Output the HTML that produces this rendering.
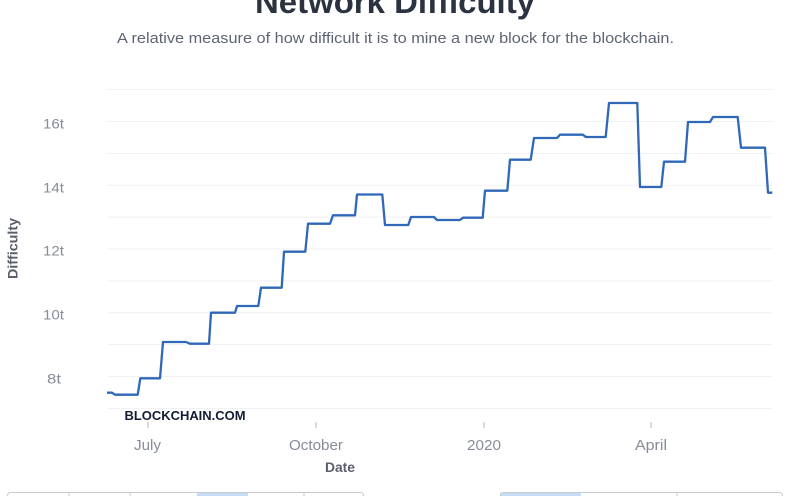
<!DOCTYPE html>
<html><head><meta charset="utf-8"><style>
html,body{margin:0;padding:0;background:#fff;width:793px;height:496px;overflow:hidden}
svg{display:block}
</style></head><body>
<svg width="793" height="496" viewBox="0 0 793 496" xmlns="http://www.w3.org/2000/svg" font-family="Liberation Sans, sans-serif">
<text x="395" y="13" text-anchor="middle" font-size="32" font-weight="bold" fill="#2b3240" textLength="280" lengthAdjust="spacingAndGlyphs">Network Difficulty</text>
<text x="395.5" y="43" text-anchor="middle" font-size="15" fill="#5d6472" textLength="557" lengthAdjust="spacingAndGlyphs">A relative measure of how difficult it is to mine a new block for the blockchain.</text>
<g stroke="#f0f1f4" stroke-width="1">
<line x1="107" x2="773" y1="89.6" y2="89.6"/>
<line x1="107" x2="773" y1="121.5" y2="121.5"/>
<line x1="107" x2="773" y1="153.4" y2="153.4"/>
<line x1="107" x2="773" y1="185.2" y2="185.2"/>
<line x1="107" x2="773" y1="217.1" y2="217.1"/>
<line x1="107" x2="773" y1="249" y2="249"/>
<line x1="107" x2="773" y1="280.9" y2="280.9"/>
<line x1="107" x2="773" y1="312.8" y2="312.8"/>
<line x1="107" x2="773" y1="344.6" y2="344.6"/>
<line x1="107" x2="773" y1="376.5" y2="376.5"/>
<line x1="107" x2="773" y1="408.4" y2="408.4"/>
</g>
<g font-size="14" fill="#868c98" text-anchor="end">
<text x="64" y="128.5" textLength="21" lengthAdjust="spacingAndGlyphs">16t</text>
<text x="64" y="192.5" textLength="21" lengthAdjust="spacingAndGlyphs">14t</text>
<text x="64" y="255.5" textLength="21" lengthAdjust="spacingAndGlyphs">12t</text>
<text x="64" y="319.5" textLength="21" lengthAdjust="spacingAndGlyphs">10t</text>
<text x="61" y="383.5" textLength="14" lengthAdjust="spacingAndGlyphs">8t</text>
</g>
<text transform="translate(17.5,248.5) rotate(-90)" text-anchor="middle" font-size="14" font-weight="bold" fill="#5a5f6b" textLength="61" lengthAdjust="spacingAndGlyphs">Difficulty</text>
<path fill="none" stroke="#2f67b9" stroke-width="2.3" stroke-linejoin="round" d="M107,392.7 L112,392.7 L115,394.7 L137.7,394.7 L140.3,378.3 L160,378.3 L163,342 L186,342 L190,343.7 L209,343.7 L211,312.7 L235,312.7 L237,306 L258.3,306 L261,287.7 L281.7,287.7 L284,251.7 L305.3,251.7 L308,223.7 L330,223.7 L333,215.3 L355,215.3 L357,194.5 L382.3,194.5 L385,225 L408.3,225 L411,217 L434,217 L437,220 L460,220 L463,217.7 L482.7,217.7 L485,190.7 L507.3,190.7 L510,159.7 L530.7,159.7 L534,138 L557,138 L560,134.7 L582.7,134.7 L586,137 L605.7,137 L609,103 L637.3,103 L640,187 L661.3,187 L664,161.7 L685,161.7 L688,122 L710,122 L713,117 L737.7,117 L741,147.7 L765,147.7 L768,192.7 L772.3,192.7"/>
<text x="124.5" y="420" font-size="13" font-weight="bold" fill="#121d33" textLength="121" lengthAdjust="spacingAndGlyphs">BLOCKCHAIN.COM</text>
<g stroke="#b0b4bb" stroke-width="1">
<line x1="148" x2="148" y1="422" y2="428"/>
<line x1="316" x2="316" y1="422" y2="428"/>
<line x1="484" x2="484" y1="422" y2="428"/>
<line x1="651" x2="651" y1="422" y2="428"/>
</g>
<g font-size="14.5" fill="#868c98" text-anchor="middle">
<text x="147.5" y="450" textLength="27" lengthAdjust="spacingAndGlyphs">July</text>
<text x="316" y="450" textLength="54" lengthAdjust="spacingAndGlyphs">October</text>
<text x="484" y="450" textLength="34" lengthAdjust="spacingAndGlyphs">2020</text>
<text x="651" y="450" textLength="32" lengthAdjust="spacingAndGlyphs">April</text>
</g>
<text x="340" y="472" text-anchor="middle" font-size="14" font-weight="bold" fill="#5a5f6b" textLength="30" lengthAdjust="spacingAndGlyphs">Date</text>
<rect x="197" y="492.5" width="51" height="10" fill="#c6ddf5"/>
<rect x="500" y="492.5" width="81" height="10" fill="#c6ddf5"/>
<g fill="none" stroke="#c8cacd" stroke-width="1">
<rect x="7.5" y="492.5" width="356" height="20" rx="3"/>
<line x1="69" x2="69" y1="492.5" y2="496"/>
<line x1="130" x2="130" y1="492.5" y2="496"/>
<line x1="304" x2="304" y1="492.5" y2="496"/>
<rect x="500.5" y="492.5" width="282" height="20" rx="3"/>
<line x1="677" x2="677" y1="492.5" y2="496"/>
</g>
</svg>
</body></html>
